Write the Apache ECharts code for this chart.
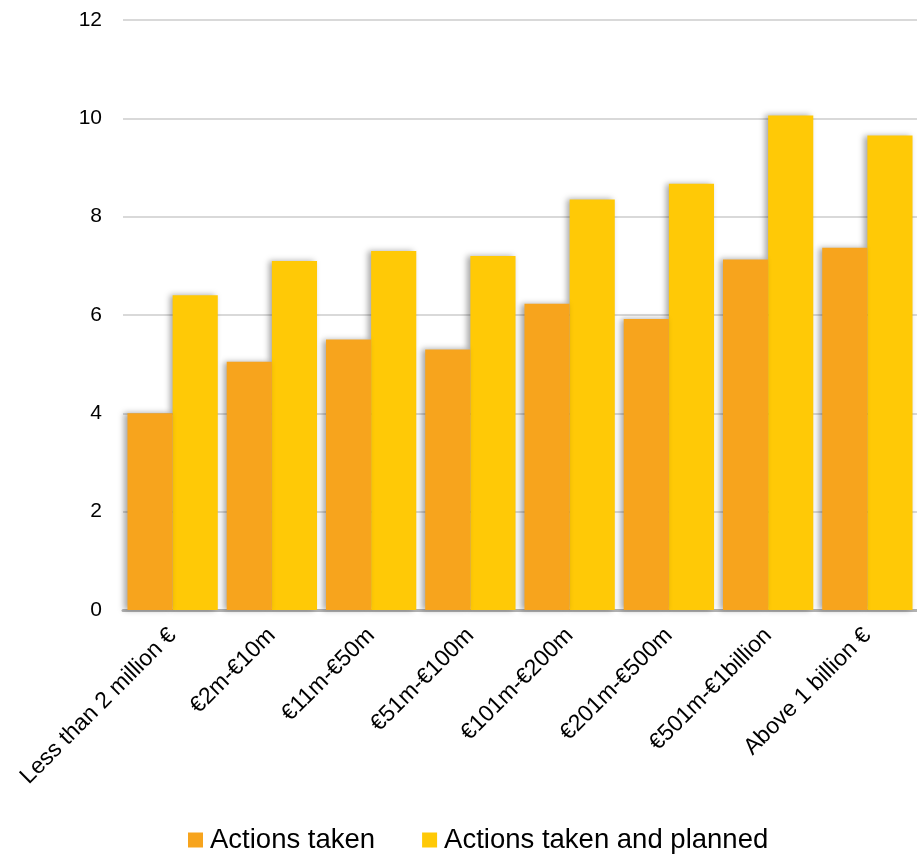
<!DOCTYPE html>
<html>
<head>
<meta charset="utf-8">
<script src="https://cdn.jsdelivr.net/npm/echarts@6/dist/echarts.min.js"></script>
<style>
  html, body { margin: 0; padding: 0; background: #fff; }
  #chart { width: 917px; height: 854px; }
</style>
</head>
<body>
<div id="chart"></div>
<script>
const categories = [
    'Less than 2 million €',
    '€2m-€10m',
    '€11m-€50m',
    '€51m-€100m',
    '€101m-€200m',
    '€201m-€500m',
    '€501m-€1billion',
    'Above 1 billion €',
]
const actionsTaken = [4.0, 5.05, 5.5, 5.3, 6.23, 5.92, 7.13, 7.37]
const actionsPlanned = [6.4, 7.1, 7.3, 7.2, 8.35, 8.67, 10.06, 9.65]

const font = '"Liberation Sans", Arial, sans-serif'
const shadow = {
    shadowColor: 'rgba(0,0,0,0.35)',
    shadowBlur: 6,
    shadowOffsetX: -3,
    shadowOffsetY: 0,
}

const chart = echarts.init(document.getElementById('chart'))
chart.setOption({
    animation: false,
    textStyle: { fontFamily: font },
    grid: { left: 123, right: -6, top: 20, bottom: 244 },
    legend: {
        top: 821,
        left: 183,
        itemWidth: 15,
        itemHeight: 15,
        itemGap: 47,
        icon: 'rect',
        textStyle: { fontSize: 27.5, color: '#000', fontFamily: font, padding: [0, 0, 0, 2] },
        data: ['Actions taken', 'Actions taken and planned'],
    },
    xAxis: {
        type: 'category',
        data: categories,
        axisTick: { show: false },
        axisLine: { lineStyle: { color: '#b3b3b3', width: 3 } },
        axisLabel: {
            rotate: 45,
            interval: 0,
            margin: 22,
            fontSize: 23,
            color: '#000',
            fontFamily: font,
        },
    },
    yAxis: {
        type: 'value',
        min: 0,
        max: 12,
        interval: 2,
        axisLabel: { fontSize: 21, color: '#000', margin: 21, fontFamily: font },
        splitLine: { lineStyle: { color: '#d9d9d9', width: 2 } },
    },
    series: [
        {
            name: 'Actions taken',
            type: 'bar',
            z: 3,
            data: actionsTaken,
            barGap: 0,
            barCategoryGap: '9%',
            itemStyle: Object.assign({ color: '#F7A41D' }, shadow),
        },
        {
            name: 'Actions taken and planned',
            type: 'bar',
            z: 2,
            data: actionsPlanned,
            barGap: 0,
            barCategoryGap: '9%',
            itemStyle: Object.assign({ color: '#FFC906' }, shadow),
        },
    ],
})
</script>
</body>
</html>
